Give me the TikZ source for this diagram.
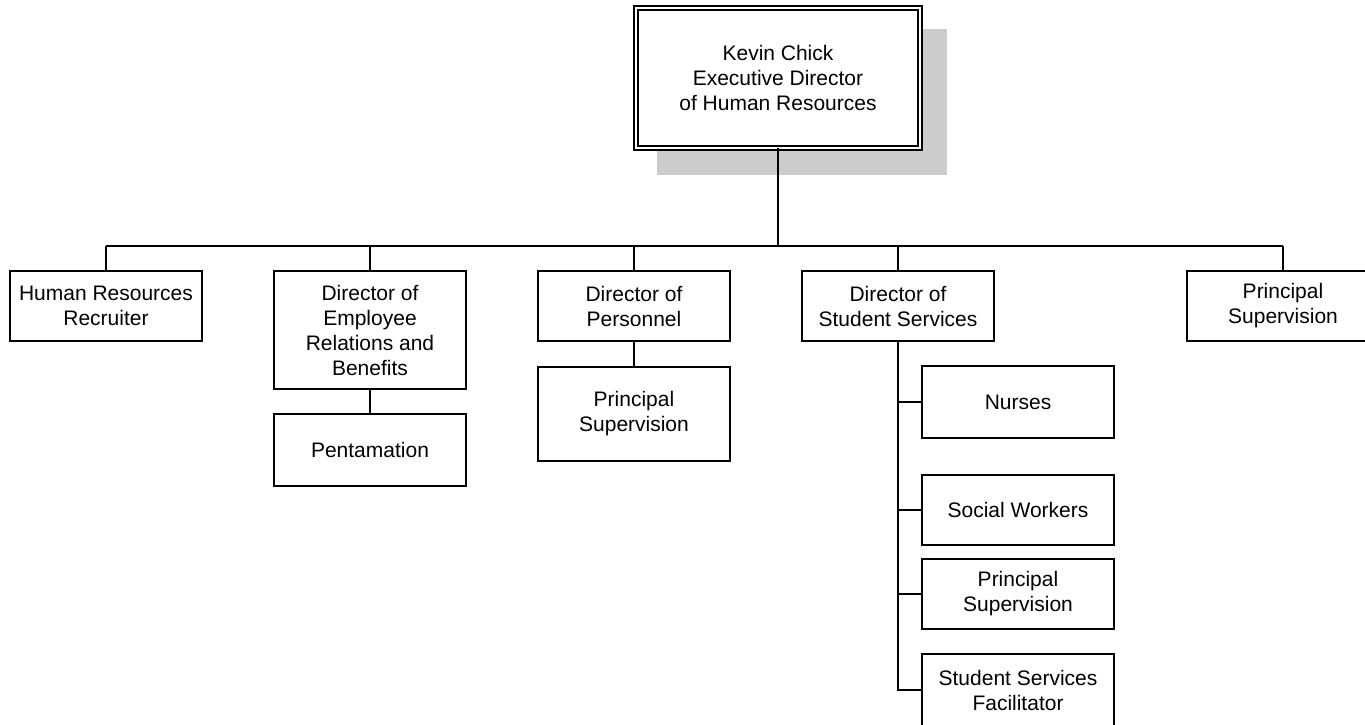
\documentclass[tikz,border=0pt]{standalone}
\usepackage{fontspec}
\setmainfont{Liberation Sans}
\definecolor{shadowgray}{RGB}{204,204,204}
\begin{document}
\begin{tikzpicture}[x=1pt,y=-1pt,
  unit/.style={draw,line width=2pt,rectangle,inner sep=0pt,outer sep=0pt,
    minimum width=192pt,minimum height=70pt,align=center,
    font=\fontsize{21}{25}\selectfont},
  headbox/.style={unit,line width=1.8pt,double,double distance=2.4pt,fill=white,
    minimum width=284pt,minimum height=140pt},
  wire/.style={line width=2pt}]
\useasboundingbox (0,0) rectangle (1365,724);

% shadow behind the head box
\fill[shadowgray] (657,29) rectangle (947,175);
\node[headbox] (head) at (778,78) {Kevin Chick\\Executive Director\\of Human Resources};

% first level
\node[unit] (hr)    at (106,306) {Human Resources\\Recruiter};
\node[unit,minimum height=118pt] (emp) at (370,330) {Director of\\Employee\\Relations and\\Benefits};
\node[unit] (pers)  at (634,306) {Director of\\Personnel};
\node[unit] (stu)   at (898,306) {Director of\\Student Services};
\node[unit] (psr)   at (1283,306) {Principal\\Supervision};

% second level
\node[unit,minimum height=72pt] (pent) at (370,450) {Pentamation};
\node[unit,minimum height=94pt] (pps)  at (634,414) {Principal\\Supervision};
\node[unit,minimum height=72pt] (nurses) at (1018,402) {Nurses};
\node[unit] (social) at (1018,510) {Social Workers};
\node[unit] (sps)    at (1018,594) {Principal\\Supervision};
\node[unit,minimum height=72pt] (facil)  at (1018,690) {Student Services\\Facilitator};

% bus below the head box
\coordinate (bus) at (778,246);
\draw[wire] (head.south) -- (bus);
\draw[wire] (hr.north |- bus) -- (psr.north |- bus);
\foreach \n in {hr,emp,pers,stu,psr}
  \draw[wire] (\n.north) -- (\n.north |- bus);

% sub-units
\draw[wire] (emp.south) -- (pent.north);
\draw[wire] (pers.south) -- (pps.north);
\draw[wire] (stu.south) |- (facil.west);
\foreach \n in {nurses,social,sps}
  \draw[wire] (stu.south |- \n.west) -- (\n.west);
\end{tikzpicture}
\end{document}
